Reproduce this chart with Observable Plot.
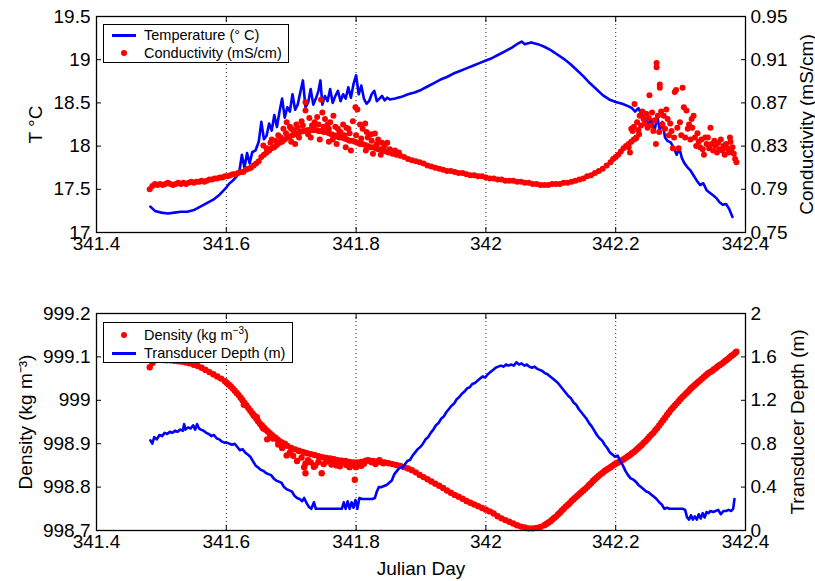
<!DOCTYPE html>
<html><head><meta charset="utf-8">
<script src="https://cdn.jsdelivr.net/npm/d3@7"></script>
<script src="https://cdn.jsdelivr.net/npm/@observablehq/plot@0.6"></script>
<style>
body{margin:0;background:#fff;}
#fig{position:relative;width:815px;height:581px;background:#fff;font-family:"Liberation Sans",Arial,sans-serif;overflow:hidden;}
#fig svg{position:absolute;left:0;}
.legend{position:absolute;background:#fff;border:1px solid #000;font-size:14.5px;color:#000;box-sizing:border-box;}
.legend .row{position:absolute;left:0;right:0;height:18px;}
.legend .txt{position:absolute;left:40px;top:0;line-height:18px;white-space:nowrap;}
.legend .ln{position:absolute;left:8px;width:24px;height:3px;top:8px;background:#0000ff;}
.legend .dt{position:absolute;left:17px;top:6px;width:6px;height:6px;border-radius:50%;background:#ff0000;}
sup{font-size:10px;line-height:0;}
</style></head><body><div id="fig"></div><script>
// ---------- ticks ----------
const xTicks = [341.4, 341.6, 341.8, 342, 342.2, 342.4];
const xGrid = [341.6, 341.8, 342, 342.2];
const tempTicks = [17, 17.5, 18, 18.5, 19, 19.5];
const condTicks = [0.75, 0.79, 0.83, 0.87, 0.91, 0.95];
const densTicks = [998.7, 998.8, 998.9, 999, 999.1, 999.2];
const depthTicks = [0, 0.4, 0.8, 1.2, 1.6, 2];

// ---------- temperature (°C) ----------
const tempDay = [341.483,341.490,341.500,341.510,341.520,341.530,341.540,341.550,341.560,341.570,341.580,341.590,341.600,341.605,341.610,341.615,341.620,341.624,341.628,341.632,341.636,341.640,341.645,341.650,341.654,341.658,341.662,341.666,341.670,341.674,341.678,341.682,341.686,341.690,341.694,341.698,341.702,341.706,341.710,341.714,341.718,341.722,341.726,341.730,341.734,341.738,341.742,341.745,341.748,341.752,341.756,341.760,341.764,341.768,341.772,341.776,341.780,341.784,341.788,341.792,341.796,341.800,341.804,341.808,341.812,341.816,341.820,341.824,341.828,341.832,341.836,341.840,341.844,341.848,341.852,341.860,341.870,341.880,341.890,341.900,341.910,341.920,341.930,341.940,341.950,341.960,341.970,341.980,341.990,342.000,342.010,342.020,342.030,342.040,342.050,342.055,342.060,342.065,342.070,342.080,342.090,342.100,342.110,342.120,342.130,342.140,342.150,342.160,342.170,342.180,342.190,342.200,342.210,342.220,342.225,342.230,342.235,342.240,342.245,342.250,342.255,342.260,342.264,342.268,342.272,342.276,342.280,342.285,342.290,342.294,342.298,342.302,342.306,342.310,342.315,342.320,342.325,342.330,342.335,342.340,342.345,342.350,342.355,342.360,342.365,342.370,342.375,342.380];
const tempVal = [17.30,17.25,17.23,17.22,17.23,17.24,17.24,17.26,17.30,17.34,17.38,17.44,17.52,17.57,17.60,17.64,17.70,17.90,17.75,17.92,17.80,17.93,17.95,18.05,18.28,18.08,18.12,18.26,18.18,18.36,18.22,18.40,18.55,18.33,18.45,18.40,18.60,18.42,18.48,18.62,18.76,18.45,18.50,18.66,18.48,18.55,18.64,18.76,18.48,18.58,18.52,18.66,18.50,18.58,18.64,18.52,18.60,18.55,18.68,18.56,18.72,18.82,18.60,18.70,18.55,18.49,18.52,18.60,18.64,18.52,18.55,18.58,18.53,18.56,18.54,18.55,18.57,18.60,18.62,18.65,18.69,18.73,18.77,18.80,18.84,18.87,18.90,18.93,18.96,18.99,19.02,19.06,19.10,19.14,19.19,19.21,19.18,19.19,19.20,19.18,19.15,19.11,19.06,19.01,18.95,18.88,18.81,18.73,18.66,18.59,18.54,18.51,18.49,18.46,18.44,18.40,18.44,18.36,18.32,18.26,18.30,18.18,18.35,18.18,18.28,18.10,18.06,18.04,17.97,17.90,17.98,17.86,17.80,17.76,17.72,17.66,17.60,17.55,17.57,17.49,17.46,17.43,17.40,17.35,17.32,17.33,17.27,17.18];

// ---------- conductivity (mS/cm) ----------
const condDay = [341.482,341.486,341.490,341.494,341.498,341.502,341.506,341.510,341.514,341.518,341.522,341.526,341.530,341.534,341.538,341.542,341.546,341.550,341.554,341.558,341.562,341.566,341.570,341.574,341.578,341.582,341.586,341.590,341.594,341.598,341.602,341.606,341.610,341.614,341.618,341.622,341.626,341.630,341.634,341.638,341.642,341.646,341.650,341.654,341.658,341.662,341.666,341.670,341.674,341.678,341.682,341.686,341.690,341.694,341.698,341.702,341.706,341.710,341.714,341.718,341.722,341.726,341.730,341.734,341.738,341.742,341.746,341.750,341.754,341.758,341.762,341.766,341.770,341.774,341.778,341.782,341.786,341.790,341.794,341.798,341.802,341.806,341.810,341.814,341.818,341.822,341.826,341.830,341.834,341.838,341.842,341.846,341.850,341.856,341.862,341.868,341.874,341.880,341.886,341.892,341.898,341.904,341.910,341.916,341.922,341.928,341.934,341.940,341.946,341.952,341.958,341.964,341.970,341.976,341.982,341.988,341.994,342.000,342.006,342.012,342.018,342.024,342.030,342.036,342.042,342.048,342.054,342.060,342.066,342.072,342.078,342.084,342.090,342.096,342.102,342.108,342.114,342.120,342.126,342.132,342.138,342.144,342.150,342.156,342.162,342.168,342.174,342.180,342.186,342.192,342.196,342.200,342.204,342.208,342.212,342.216,342.220,342.224,342.228,342.232,342.236,
341.657,341.670,341.680,341.688,341.693,341.698,341.703,341.708,341.712,341.716,341.722,341.722,341.728,341.732,341.736,341.740,341.746,341.748,341.752,341.756,341.760,341.765,341.768,341.772,341.776,341.780,341.785,341.790,341.795,341.799,341.802,341.806,341.810,341.814,341.818,341.823,341.829,341.834,341.840,341.700,341.706,341.730,341.744,341.758,341.770,341.784,341.792,341.815,341.826,341.838,
341.662,341.668,341.676,341.684,341.692,341.700,341.710,341.718,341.726,341.734,341.742,341.750,341.758,341.764,341.774,341.782,341.788,341.800,341.808,341.816,341.824,341.832,341.844,341.848,341.852,341.860,341.866,
342.220,342.222,342.224,342.226,342.228,342.229,342.231,342.233,342.235,342.237,342.239,342.241,342.243,342.245,342.247,342.249,342.251,342.252,342.254,342.256,342.258,342.260,342.262,342.263,342.263,342.265,342.267,342.268,342.268,342.270,342.272,342.274,342.276,342.278,342.280,342.282,342.284,342.286,342.288,342.290,342.291,342.293,342.295,342.297,342.299,342.301,342.303,342.305,342.307,342.309,342.311,342.313,342.315,342.317,342.318,342.320,342.322,342.324,342.326,342.328,342.330,342.332,342.334,342.336,342.338,342.340,342.342,342.344,342.346,342.348,342.350,342.352,342.354,342.356,342.358,342.360,342.362,342.364,342.366,342.368,342.370,342.372,342.374,342.376,342.377,342.378,342.380,342.382,342.384,342.386];
const condVal = [0.790,0.793,0.795,0.794,0.795,0.794,0.795,0.796,0.795,0.794,0.795,0.796,0.795,0.796,0.795,0.796,0.797,0.796,0.797,0.797,0.798,0.797,0.798,0.799,0.799,0.800,0.800,0.801,0.801,0.802,0.802,0.803,0.804,0.804,0.805,0.806,0.806,0.808,0.809,0.810,0.812,0.814,0.816,0.820,0.822,0.824,0.826,0.828,0.829,0.831,0.833,0.834,0.836,0.838,0.839,0.840,0.841,0.842,0.843,0.844,0.844,0.845,0.845,0.845,0.845,0.844,0.844,0.843,0.843,0.842,0.841,0.840,0.839,0.838,0.838,0.837,0.836,0.835,0.835,0.834,0.833,0.832,0.832,0.831,0.830,0.829,0.829,0.828,0.827,0.827,0.826,0.825,0.824,0.823,0.822,0.821,0.820,0.818,0.817,0.816,0.815,0.814,0.812,0.811,0.810,0.809,0.808,0.807,0.807,0.806,0.805,0.805,0.804,0.803,0.803,0.802,0.802,0.801,0.800,0.800,0.799,0.799,0.798,0.798,0.798,0.797,0.797,0.796,0.796,0.795,0.795,0.794,0.794,0.794,0.795,0.795,0.795,0.796,0.796,0.797,0.798,0.799,0.800,0.802,0.803,0.805,0.807,0.809,0.812,0.815,0.818,0.820,0.822,0.825,0.828,0.830,0.832,0.834,0.836,0.838,0.841,
0.8306,0.836,0.840,0.846,0.852,0.848,0.845,0.850,0.838,0.853,0.8707,0.863,0.856,0.849,0.852,0.857,0.873,0.861,0.855,0.850,0.852,0.858,0.848,0.846,0.843,0.850,0.847,0.842,0.853,0.866,0.864,0.850,0.846,0.851,0.838,0.841,0.8417,0.836,0.833,0.834,0.832,0.838,0.836,0.834,0.832,0.829,0.826,0.826,0.823,0.822,
0.828,0.833,0.835,0.838,0.842,0.846,0.847,0.849,0.841,0.848,0.850,0.848,0.846,0.836,0.842,0.840,0.846,0.840,0.837,0.843,0.835,0.832,0.830,0.833,0.827,0.826,0.824,
0.829,0.824,0.846,0.844,0.848,0.869,0.837,0.852,0.845,0.858,0.849,0.862,0.855,0.851,0.860,0.847,0.856,0.877,0.849,0.861,0.844,0.854,0.832,0.907,0.903,0.858,0.843,0.887,0.884,0.862,0.850,0.858,0.846,0.864,0.855,0.840,0.851,0.844,0.828,0.838,0.880,0.882,0.847,0.828,0.852,0.840,0.884,0.866,0.838,0.863,0.846,0.850,0.836,0.855,0.847,0.858,0.838,0.830,0.842,0.834,0.829,0.836,0.827,0.822,0.838,0.832,0.838,0.828,0.847,0.832,0.826,0.835,0.830,0.824,0.833,0.827,0.836,0.826,0.830,0.822,0.832,0.828,0.824,0.838,0.834,0.826,0.829,0.823,0.818,0.815];

// ---------- density (kg m^-3) ----------
const densDay = [341.482,341.486,341.490,341.496,341.502,341.508,341.514,341.520,341.526,341.532,341.538,341.544,341.550,341.556,341.562,341.568,341.574,341.580,341.586,341.592,341.598,341.604,341.610,341.616,341.622,341.628,341.634,341.640,341.646,341.652,341.658,341.664,341.670,341.676,341.682,341.688,341.694,341.700,341.706,341.712,341.718,341.724,341.730,341.736,341.742,341.748,341.754,341.760,341.766,341.772,341.778,341.784,341.790,341.796,341.802,341.808,341.814,341.820,341.826,341.832,341.838,341.844,341.850,341.856,341.862,341.868,341.874,341.880,341.886,341.892,341.898,341.904,341.910,341.916,341.922,341.928,341.934,341.940,341.946,341.952,341.958,341.964,341.970,341.976,341.982,341.988,341.994,342.000,342.006,342.012,342.018,342.024,342.030,342.036,342.042,342.048,342.054,342.060,342.066,342.072,342.078,342.084,342.090,342.096,342.102,342.108,342.114,342.120,342.126,342.132,342.138,342.144,342.150,342.156,342.162,342.168,342.174,342.180,342.186,342.192,342.198,342.204,342.210,342.216,342.222,342.228,342.234,342.240,342.246,342.252,342.258,342.264,342.270,342.276,342.282,342.288,342.294,342.300,342.306,342.312,342.318,342.324,342.330,342.336,342.342,342.348,342.354,342.360,342.366,342.372,342.378,342.384,342.386,
341.627,341.642,341.647,341.655,341.657,341.663,341.668,341.672,341.680,341.686,341.690,341.693,341.698,341.703,341.709,341.712,341.716,341.720,341.722,341.722,341.726,341.730,341.735,341.737,341.742,341.747,341.750,341.754,341.757,341.762,341.766,341.770,341.775,341.780,341.785,341.790,341.795,341.798,341.800,341.803,341.808,341.812,341.818,341.824,341.830,341.836,341.842,
341.601,341.607,341.613,341.619,341.625,341.631,341.637,341.643,341.649,341.655,341.661,341.667,341.673,341.679,341.685,341.691,
342.093,342.099,342.105,342.111,342.117,342.123,342.129,342.135,342.141,342.147,342.153,342.159,342.165,342.171,342.177,342.183,342.189,342.195,342.201,342.207,342.213,342.219,342.225,342.231,342.237,342.243,342.249,342.255,342.261,342.267,342.273,342.279,342.285,342.291,342.297,342.303,342.309,342.315,342.321,342.327,342.333,342.339,342.345,342.351,342.357,342.363,342.369,342.375,342.381];
const densVal = [999.076,999.086,999.092,999.094,999.093,999.092,999.092,999.091,999.090,999.089,999.087,999.085,999.082,999.079,999.075,999.070,999.065,999.060,999.055,999.050,999.044,999.036,999.027,999.017,999.006,998.994,998.982,998.970,998.958,998.946,998.937,998.928,998.920,998.913,998.906,998.900,998.895,998.890,998.887,998.884,998.881,998.878,998.876,998.874,998.871,998.869,998.867,998.866,998.864,998.862,998.861,998.860,998.858,998.857,998.857,998.858,998.860,998.861,998.860,998.859,998.858,998.857,998.855,998.853,998.851,998.849,998.846,998.843,998.839,998.834,998.828,998.823,998.818,998.813,998.808,998.803,998.798,998.792,998.787,998.782,998.778,998.773,998.768,998.764,998.760,998.756,998.752,998.748,998.744,998.739,998.733,998.728,998.724,998.720,998.716,998.712,998.709,998.707,998.705,998.705,998.706,998.708,998.712,998.718,998.725,998.732,998.741,998.750,998.759,998.768,998.776,998.784,998.792,998.800,998.809,998.818,998.826,998.833,998.840,998.846,998.852,998.857,998.862,998.868,998.874,998.881,998.889,998.897,998.906,998.916,998.925,998.936,998.948,998.960,998.972,998.983,998.993,999.003,999.012,999.021,999.030,999.038,999.046,999.054,999.062,999.067,999.074,999.081,999.087,999.094,999.102,999.109,999.112,
998.990,998.966,998.961,998.940,998.935,998.910,998.918,998.912,998.898,998.890,998.900,998.873,998.880,998.872,998.860,998.883,998.868,998.846,998.854,998.832,998.862,998.857,998.847,998.850,998.858,998.832,998.853,998.859,998.860,998.852,998.855,998.850,998.848,998.857,998.851,998.846,998.850,998.817,998.846,998.853,998.849,998.854,998.862,998.857,998.853,998.862,998.855,
999.040,999.032,999.022,999.012,999.000,998.988,998.976,998.964,998.952,998.942,998.932,998.924,998.916,998.909,998.903,998.897,
998.715,998.721,998.729,998.737,998.746,998.755,998.763,998.772,998.780,998.788,998.796,998.805,998.814,998.822,998.830,998.837,998.843,998.849,998.855,998.860,998.865,998.871,998.878,998.885,998.893,998.902,998.911,998.921,998.931,998.942,998.954,998.966,998.978,998.988,998.998,999.008,999.017,999.026,999.034,999.042,999.050,999.058,999.065,999.071,999.078,999.084,999.091,999.098,999.105];

// ---------- transducer depth (m) ----------
const depthDay = [341.483,341.486,341.489,341.493,341.497,341.501,341.505,341.509,341.513,341.517,341.521,341.525,341.529,341.533,341.535,341.537,341.541,341.545,341.549,341.552,341.555,341.558,341.561,341.565,341.569,341.573,341.577,341.581,341.585,341.589,341.593,341.597,341.601,341.605,341.609,341.613,341.617,341.621,341.625,341.629,341.633,341.637,341.641,341.645,341.649,341.653,341.657,341.661,341.665,341.669,341.673,341.677,341.681,341.685,341.689,341.693,341.697,341.701,341.705,341.709,341.713,341.717,341.720,341.723,341.727,341.731,341.735,341.738,341.742,341.746,341.750,341.754,341.758,341.762,341.766,341.770,341.774,341.778,341.781,341.784,341.787,341.790,341.793,341.796,341.799,341.802,341.805,341.809,341.813,341.817,341.821,341.825,341.829,341.832,341.835,341.839,341.843,341.847,341.851,341.855,341.859,341.863,341.867,341.871,341.875,341.879,341.883,341.887,341.891,341.895,341.899,341.903,341.907,341.911,341.915,341.919,341.923,341.927,341.931,341.935,341.939,341.943,341.947,341.951,341.955,341.959,341.963,341.967,341.971,341.975,341.979,341.983,341.987,341.991,341.995,341.999,342.003,342.007,342.011,342.015,342.019,342.023,342.027,342.031,342.035,342.039,342.043,342.047,342.051,342.055,342.059,342.063,342.067,342.071,342.075,342.079,342.083,342.087,342.091,342.095,342.099,342.103,342.107,342.111,342.115,342.119,342.123,342.127,342.131,342.135,342.139,342.143,342.147,342.151,342.155,342.159,342.163,342.167,342.171,342.175,342.179,342.183,342.187,342.191,342.195,342.199,342.203,342.207,342.211,342.215,342.219,342.223,342.227,342.231,342.235,342.239,342.243,342.247,342.251,342.255,342.259,342.263,342.267,342.271,342.275,342.279,342.283,342.287,342.291,342.295,342.299,342.303,342.307,342.310,342.313,342.316,342.319,342.322,342.325,342.328,342.331,342.334,342.337,342.340,342.343,342.346,342.350,342.354,342.358,342.362,342.366,342.370,342.374,342.378,342.381,342.383];
const depthVal = [0.83,0.80,0.86,0.84,0.88,0.87,0.90,0.89,0.91,0.90,0.92,0.91,0.93,0.92,0.98,0.93,0.95,0.94,0.97,0.93,0.98,0.94,0.93,0.92,0.90,0.89,0.87,0.88,0.85,0.84,0.82,0.81,0.81,0.80,0.79,0.80,0.77,0.74,0.75,0.72,0.70,0.68,0.64,0.60,0.58,0.56,0.55,0.53,0.52,0.51,0.48,0.46,0.45,0.44,0.40,0.38,0.37,0.36,0.32,0.30,0.29,0.27,0.30,0.26,0.22,0.20,0.26,0.20,0.20,0.20,0.20,0.20,0.20,0.20,0.20,0.20,0.20,0.20,0.26,0.20,0.27,0.20,0.26,0.21,0.28,0.20,0.30,0.29,0.29,0.29,0.29,0.29,0.30,0.36,0.40,0.40,0.41,0.42,0.44,0.46,0.52,0.55,0.58,0.58,0.61,0.64,0.65,0.69,0.72,0.75,0.77,0.80,0.84,0.86,0.90,0.93,0.97,0.99,1.03,1.05,1.09,1.12,1.15,1.17,1.21,1.23,1.26,1.28,1.31,1.32,1.35,1.36,1.38,1.40,1.42,1.41,1.44,1.46,1.48,1.50,1.51,1.52,1.51,1.53,1.52,1.53,1.52,1.55,1.53,1.54,1.52,1.53,1.51,1.50,1.51,1.49,1.48,1.47,1.45,1.44,1.42,1.40,1.38,1.36,1.33,1.30,1.27,1.24,1.22,1.18,1.16,1.12,1.09,1.06,1.03,0.99,0.96,0.92,0.88,0.85,0.83,0.79,0.76,0.72,0.70,0.68,0.69,0.64,0.60,0.55,0.51,0.48,0.47,0.45,0.42,0.40,0.38,0.36,0.35,0.33,0.31,0.29,0.26,0.24,0.20,0.21,0.20,0.20,0.20,0.20,0.20,0.20,0.19,0.12,0.10,0.14,0.10,0.13,0.10,0.15,0.11,0.16,0.12,0.17,0.16,0.18,0.17,0.18,0.19,0.15,0.18,0.18,0.19,0.18,0.20,0.29];

// ---------- build ----------
const zip = (a, b) => a.map((d, i) => ({day: d, v: b[i]}));
const tempData = zip(tempDay, tempVal);
const condData = zip(condDay, condVal);
const densData = zip(densDay, densVal);
const depthData = zip(depthDay, depthVal);

const FONT = '"Liberation Sans", Arial, Helvetica, sans-serif';
const fmt = d => String(+(+d).toFixed(2));
const W = 815, ML = 96, MR = 70;
const style = {fontSize: "19px", fontFamily: FONT, background: "transparent", color: "#000", overflow: "visible"};
const fig = document.getElementById("fig");

function leftPlot({height, mt, mb, yDomain, yTicks, yLabel, yLabelOffset, dataMark, xLabel}) {
  return Plot.plot({
    width: W, height, marginTop: mt, marginBottom: mb, marginLeft: ML, marginRight: MR,
    style,
    x: {domain: [341.4, 342.4]},
    y: {domain: yDomain},
    marks: [
      Plot.gridX(xGrid, {stroke: "#000", strokeOpacity: 0.85, strokeWidth: 1, strokeDasharray: "1,3"}),
      dataMark,
      Plot.frame({stroke: "#000", strokeWidth: 1.3}),
      Plot.axisX(xTicks, {anchor: "bottom", tickSize: 5, dy: -5, fill: "none", stroke: "#000", label: null}),
      Plot.axisX(xTicks, {anchor: "top", tickSize: 5, dy: 5, fill: "none", stroke: "#000", label: null}),
      Plot.axisX(xTicks, {anchor: "bottom", tickSize: 0, tickPadding: 4, tickFormat: fmt, fill: "#000",
        label: xLabel ?? null, labelAnchor: "center", labelOffset: 44, labelArrow: "none"}),
      Plot.axisY(yTicks, {anchor: "left", tickSize: 5, dx: 5, fill: "none", stroke: "#000", label: null}),
      Plot.axisY(yTicks, {anchor: "left", tickSize: 0, tickPadding: 6, tickFormat: fmt, fill: "#000",
        label: yLabel, labelAnchor: "center", labelOffset: yLabelOffset, labelArrow: "none"})
    ]
  });
}
function rightPlot({height, mt, mb, yDomain, yTicks, yLabel, yLabelOffset, dataMark, tf}) {
  return Plot.plot({
    width: W, height, marginTop: mt, marginBottom: mb, marginLeft: ML, marginRight: MR,
    style,
    x: {domain: [341.4, 342.4], axis: null},
    y: {domain: yDomain},
    marks: [
      dataMark,
      Plot.axisY(yTicks, {anchor: "right", tickSize: 5, dx: -5, fill: "none", stroke: "#000", label: null}),
      Plot.axisY(yTicks, {anchor: "right", tickSize: 0, tickPadding: 5, tickFormat: tf, fill: "#000",
        label: yLabel, labelAnchor: "center", labelOffset: yLabelOffset, labelArrow: "none"})
    ]
  });
}

function place(svg, top) { svg.style.top = top + "px"; fig.appendChild(svg); }

// top panel
place(leftPlot({height: 290, mt: 16, mb: 58, yDomain: [17, 19.5], yTicks: tempTicks, yLabel: "T °C", yLabelOffset: 68,
  dataMark: Plot.line(tempData, {x: "day", y: "v", stroke: "#0000ff", strokeWidth: 2.6})}), 0);
place(rightPlot({height: 290, mt: 16, mb: 58, yDomain: [0.75, 0.95], yTicks: condTicks, yLabel: "Conductivity (mS/cm)", yLabelOffset: 67,
  tf: d => (+d).toFixed(2),
  dataMark: Plot.dot(condData, {x: "day", y: "v", r: 3, fill: "#ff0000", stroke: "none"})}), 0);

// bottom panel
place(leftPlot({height: 291, mt: 23, mb: 51, yDomain: [998.7, 999.2], yTicks: densTicks, yLabel: "Density (kg m⁻³)", yLabelOffset: 78,
  xLabel: "Julian Day",
  dataMark: Plot.dot(densData, {x: "day", y: "v", r: 3.2, fill: "#ff0000", stroke: "none"})}), 290);
place(rightPlot({height: 291, mt: 23, mb: 51, yDomain: [0, 2], yTicks: depthTicks, yLabel: "Transducer Depth (m)", yLabelOffset: 58,
  tf: fmt,
  dataMark: Plot.line(depthData, {x: "day", y: "v", stroke: "#0000ff", strokeWidth: 2.6})}), 290);

// legends
function legend(left, top, w, h, rows) {
  const box = document.createElement("div");
  box.className = "legend";
  Object.assign(box.style, {left: left + "px", top: top + "px", width: w + "px", height: h + "px"});
  rows.forEach(r => {
    const row = document.createElement("div");
    row.className = "row";
    row.style.top = r.y + "px";
    const sym = document.createElement("div");
    sym.className = r.kind === "line" ? "ln" : "dt";
    const t = document.createElement("div");
    t.className = "txt";
    t.innerHTML = r.html;
    row.appendChild(sym); row.appendChild(t);
    box.appendChild(row);
  });
  fig.appendChild(box);
}
legend(103, 24, 186, 39, [
  {y: 1, kind: "line", html: "Temperature (° C)"},
  {y: 19, kind: "dot", html: "Conductivity (mS/cm)"}
]);
legend(103, 322, 190, 41, [
  {y: 3, kind: "dot", html: "Density (kg m<sup>−3</sup>)"},
  {y: 21, kind: "line", html: "Transducer Depth (m)"}
]);
</script></body></html>
